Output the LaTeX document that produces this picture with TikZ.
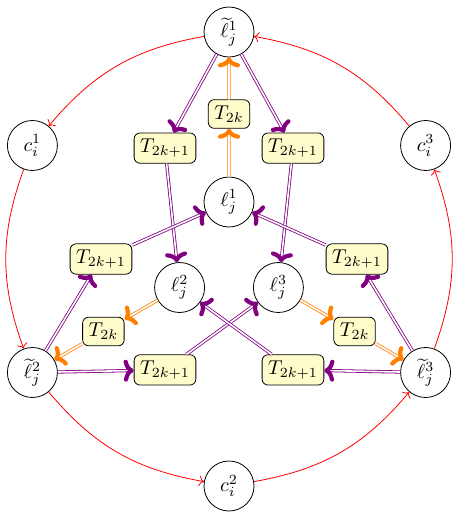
\documentclass[tikz,border=0pt]{standalone}
\usetikzlibrary{arrows.meta}
\begin{document}
\begin{tikzpicture}[x=0.5pt,y=-0.5pt,
  circ/.style={circle,draw,minimum size=25pt,inner sep=0pt},
  tbox/.style={draw,rounded corners=3pt,fill=yellow!20,inner sep=3pt},
  bigtip/.style={-{To[line width=2.1pt,length=5pt,width=11pt]}},
  pimp/.style={violet,double,double distance=0.8pt,bigtip},
  oimp/.style={orange,double,double distance=0.8pt,bigtip},
  rarc/.style={red,->,bend right=20}]
\useasboundingbox (0,0) rectangle (458,516);
% outer ring
\node[circ] (lt1) at (229,32) {$\widetilde{\ell}_j^1$};
\node[circ] (c1) at (32.4,145.5) {$c_i^1$};
\node[circ] (lt2) at (32.4,372.5) {$\widetilde{\ell}_j^2$};
\node[circ] (c2) at (229,486) {$c_i^2$};
\node[circ] (lt3) at (425.6,372.5) {$\widetilde{\ell}_j^3$};
\node[circ] (c3) at (425.6,145.5) {$c_i^3$};
% inner ring
\node[circ] (l1) at (229,202) {$\ell_j^1$};
\node[circ] (l2) at (179.6,287.5) {$\ell_j^2$};
\node[circ] (l3) at (278.4,287.5) {$\ell_j^3$};
% T2k boxes
\node[tbox] (t0) at (229.05,114) {$T_{2k}$};
\node[tbox] (tL) at (103.4,331.5) {$T_{2k}$};
\node[tbox] (tR) at (354.6,331.5) {$T_{2k}$};
% T2k+1 boxes
\node[tbox] (a120) at (165,148.1) {$T_{2k+1}$};
\node[tbox] (a60) at (293,148.1) {$T_{2k+1}$};
\node[tbox] (a180) at (101,259) {$T_{2k+1}$};
\node[tbox] (a0) at (357,259) {$T_{2k+1}$};
\node[tbox] (a240) at (165,369.9) {$T_{2k+1}$};
\node[tbox] (a300) at (293,369.9) {$T_{2k+1}$};
% orange
\draw[oimp] (l1) -- (t0);
\draw[oimp] (t0) -- (lt1);
\draw[oimp] (l2) -- (tL);
\draw[oimp] (tL) -- (lt2);
\draw[oimp] (l3) -- (tR);
\draw[oimp] (tR) -- (lt3);
% violet
\draw[pimp] (lt1) -- (a120);
\draw[pimp] (a120) -- (l2);
\draw[pimp] (lt1) -- (a60);
\draw[pimp] (a60) -- (l3);
\draw[pimp] (lt2) -- (a180);
\draw[pimp] (a180) -- (l1);
\draw[pimp] (lt3) -- (a0);
\draw[pimp] (a0) -- (l1);
\draw[pimp] (lt2) -- (a240);
\draw[pimp] (a240) -- (l3);
\draw[pimp] (lt3) -- (a300);
\draw[pimp] (a300) -- (l2);
% red
\draw[rarc] (lt1) to (c1);
\draw[rarc] (c1) to (lt2);
\draw[rarc] (lt2) to (c2);
\draw[rarc] (c2) to (lt3);
\draw[rarc] (lt3) to (c3);
\draw[rarc] (c3) to (lt1);
\end{tikzpicture}
\end{document}
